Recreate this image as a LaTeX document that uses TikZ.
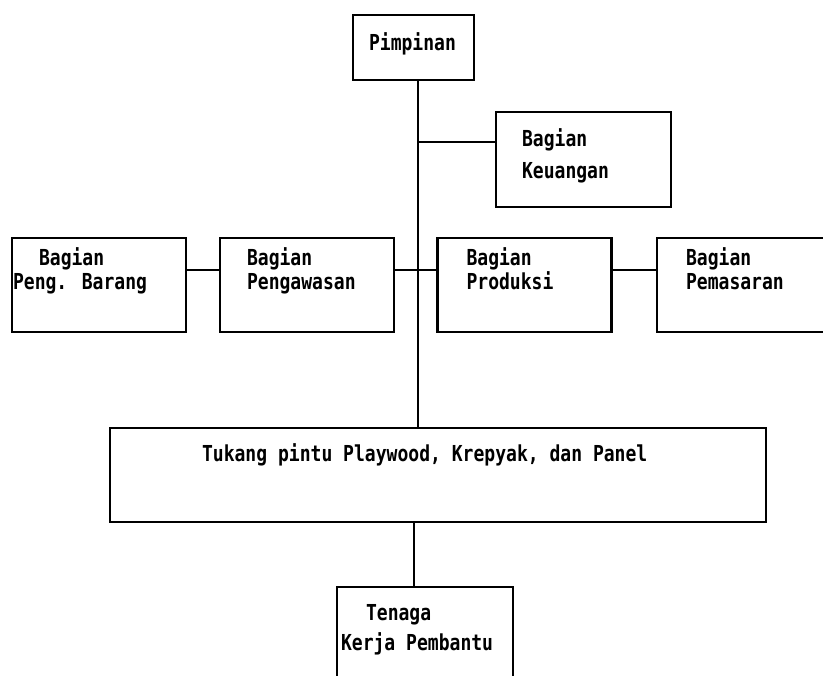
\documentclass[tikz,border=0pt]{standalone}
\usepackage{fontspec}
\newfontfamily\dotfont[FakeStretch=0.82]{DejaVu Sans Mono}
\usetikzlibrary{calc, positioning}
\tikzset{
  unit/.style={draw, line width=1.35pt, inner sep=0pt},
  row/.style={unit, minimum width=87pt, minimum height=47pt},
  txt/.style={font=\dotfont\bfseries\fontsize{11pt}{12pt}\selectfont, anchor=base west, inner sep=0pt, align=left},
  link/.style={line width=1.35pt},
}

\begin{document}
\begin{tikzpicture}[x=0.5pt, y=-0.5pt]
  \useasboundingbox (0,0) rectangle (823,675);
  \clip (0,0) rectangle (823,675);

  \node[unit, minimum width=60.5pt, minimum height=32.5pt] (pim) at (413.5, 47.5) {};
  \node[unit, minimum width=87.5pt, minimum height=47.5pt] (keu) at (583.5, 159.5) {};
  \node[row] (bar) at (99, 285) {};
  \node[row] (pgw) at (307, 285) {};
  \node[row] (prd) at (524.5, 285) {};
  \node[row, minimum width=93pt] (pms) at (750, 285) {};
  \node[unit, minimum width=328pt, minimum height=47pt] (tuk) at (438, 475) {};
  \node[unit, minimum width=88pt, minimum height=60pt] (ten) at (425, 647) {};

  % texts (base = last line)
  \node[txt] (pimtxt) at ($(pim.north west)+(17,37)$) {Pimpinan};
  \node[txt] (keutxt) at ($(keu.north west)+(27,68)$) {Bagian\\[4pt]Keuangan};
  \node[txt] (bartxt) at ($(bar.north west)+(2,53)$) {\hspace*{13pt}Bagian\\Peng. Barang};
  \node[txt] (pgwtxt) at ($(pgw.north west)+(28,53)$) {Bagian\\Pengawasan};
  \node[txt] (prdtxt) at ($(prd.north west)+(30,53)$) {Bagian\\Produksi};
  \node[txt] (pmstxt) at ($(pms.north west)+(30,53)$) {Bagian\\Pemasaran};
  \node[txt] (tuktxt) at ($(tuk.north west)+(93,35)$) {Tukang pintu Playwood, Krepyak, dan Panel};
  \node[txt] (tentxt) at ($(ten.north west)+(5,65)$) {\hspace*{12.5pt}Tenaga\\[3pt]Kerja Pembantu};

  % connectors
  \coordinate (top) at ($(pim.south)+(4.5,0)$);
  \coordinate (kj) at ($(keu.west)+(0,-17.5)$);
  \coordinate (low) at ($(ten.north)+(-11,0)$);
  \draw[link] (top) -- (top |- tuk.north);
  \draw[link] (kj) -- (kj -| top);
  \draw[link] ($(bar.east)+(0,-15)$) -- ($(pgw.west)+(0,-15)$);
  \draw[link] ($(pgw.east)+(0,-15)$) -- ($(prd.west)+(0,-15)$);
  \draw[link] ($(prd.east)+(0,-15)$) -- ($(pms.west)+(0,-15)$);
  \draw[link] (low) -- (low |- tuk.south);
\end{tikzpicture}
\end{document}
